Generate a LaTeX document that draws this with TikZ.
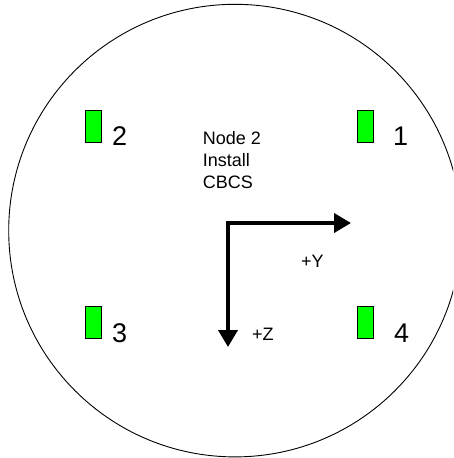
\documentclass[tikz,border=0pt]{standalone}
\usepackage{fontspec}
\setmainfont{Liberation Sans}
\usetikzlibrary{arrows.meta}
\definecolor{padgreen}{RGB}{0,255,0}
\tikzset{
  pad/.style={draw=black, line width=1pt, fill=padgreen, minimum width=16pt, minimum height=32pt, inner sep=0pt},
  padlabel/.style={anchor=base west, inner sep=0pt, font=\fontsize{27pt}{30pt}\selectfont},
  smalltext/.style={anchor=base west, inner sep=0pt, font=\fontsize{18pt}{22pt}\selectfont},
  axis/.style={line width=4pt, line join=miter, {Triangle[length=17pt,width=19pt]}-{Triangle[length=17pt,width=19pt]}}
}
\begin{document}
\begin{tikzpicture}[x=1pt,y=1pt]
\useasboundingbox (0,0) rectangle (453,-458);
\clip (0,0) rectangle (453,-458);
\draw[line width=0.9pt] (235,-230.6) circle[radius=226.3];
% pads
\node[pad] (p2) at (93,-126) {};
\node[pad] (p1) at (365,-126) {};
\node[pad] (p3) at (93,-322.5) {};
\node[pad] (p4) at (365,-322.5) {};
\node[padlabel] (l2) at (112,-145) {2};
\node[padlabel] (l1) at (393,-145) {1};
\node[padlabel] (l3) at (112,-342) {3};
\node[padlabel] (l4) at (394,-342) {4};
% text
\node[smalltext] (t1) at (202.6,-144) {Node 2};
\node[smalltext] (t2) at (202.6,-166) {Install};
\node[smalltext] (t3) at (202.6,-188) {CBCS};
% axes
\coordinate (o) at (228,-223);
\coordinate (ytip) at (351,-223);
\coordinate (ztip) at (228,-347);
\draw[axis] (ytip) -- (o) -- (ztip);
\node[smalltext] (ly) at (301,-267) {+Y};
\node[smalltext] (lz) at (252,-340) {+Z};
\end{tikzpicture}
\end{document}
